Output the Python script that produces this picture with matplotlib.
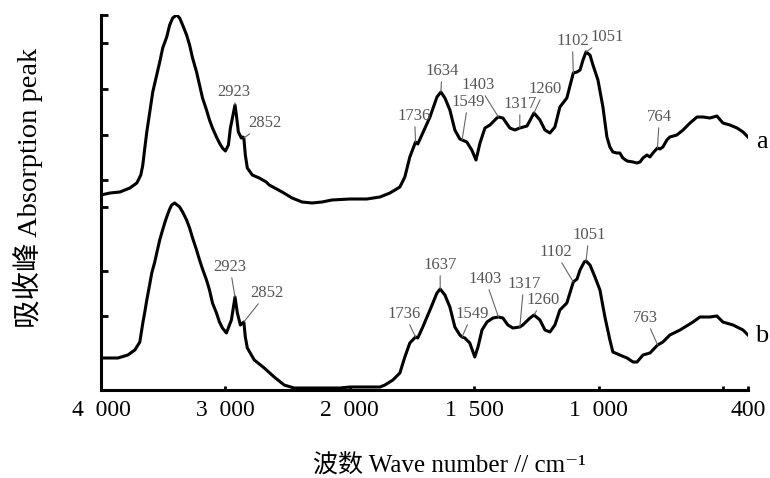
import numpy as np
import matplotlib
matplotlib.use('Agg')
from matplotlib import pyplot as plt
from matplotlib import rc

rc('font', family=['Liberation Serif', 'Noto Sans CJK SC', 'DejaVu Serif'])

# spectrum a (upper)
wn_a = [4000, 3928, 3848, 3768, 3712, 3680, 3664, 3648, 3632, 3608, 3584, 3552, 3528,
        3504, 3472, 3448, 3424, 3392, 3368, 3344, 3312, 3288, 3264, 3232, 3208, 3184,
        3152, 3128, 3104, 3072, 3048, 3024, 3000, 2976, 2960, 2923, 2912, 2896, 2872,
        2860, 2852, 2840, 2824, 2784, 2728, 2672, 2648, 2544, 2464, 2384, 2304, 2224,
        2144, 2000, 1932, 1879, 1839, 1799, 1779, 1759, 1736, 1727, 1707, 1678, 1650,
        1634, 1618, 1598, 1578, 1558, 1549, 1530, 1510, 1493, 1477, 1457, 1437, 1409,
        1403, 1385, 1357, 1337, 1317, 1288, 1264, 1260, 1236, 1216, 1196, 1176, 1156,
        1128, 1102, 1087, 1075, 1063, 1051, 1035, 1023, 1003, 983, 967, 955, 943, 927,
        915, 903, 886, 862, 846, 834, 822, 806, 794, 782, 764, 754, 742, 726, 714, 686,
        661, 633, 605, 581, 553, 525, 501, 473, 444, 420, 400]
abs_a = [195, 197, 198, 202, 207, 215, 225, 242, 258, 278, 298, 315, 328,
         342, 353, 365, 372, 375, 372, 365, 355, 345, 332, 318, 305, 292,
         280, 270, 262, 253, 247, 242, 239, 245, 262, 285, 275, 258, 252,
         253, 252, 235, 222, 215, 212, 208, 205, 198, 192, 188, 187, 188,
         190, 191, 191, 193, 197, 203, 213, 233, 248, 246, 257, 273, 293,
         298, 292, 280, 260, 251, 250, 248, 240, 230, 247, 262, 265, 272,
         273, 272, 262, 260, 262, 264, 275, 277, 270, 260, 257, 263, 283,
         292, 317, 318, 320, 330, 338, 335, 325, 310, 283, 253, 243, 238, 237,
         237, 232, 229, 228, 227, 228, 232, 235, 233, 237, 242, 241, 243, 250, 253, 255,
         260, 267, 273, 273, 272, 274, 267, 265, 262, 258, 253]

# spectrum b (lower)
wn_b = [4000, 3864, 3784, 3728, 3688, 3664, 3648, 3632, 3608, 3592, 3568, 3552, 3528,
        3512, 3488, 3472, 3448, 3432, 3408, 3368, 3344, 3312, 3288, 3264, 3232, 3208,
        3184, 3152, 3128, 3104, 3072, 3048, 3024, 2992, 2952, 2923, 2904, 2880, 2852,
        2840, 2824, 2768, 2688, 2608, 2528, 2448, 2408, 2080, 2000, 1879, 1859, 1827,
        1799, 1779, 1759, 1736, 1727, 1707, 1678, 1650, 1637, 1618, 1598, 1578, 1558,
        1549, 1538, 1518, 1498, 1485, 1469, 1449, 1425, 1403, 1385, 1365, 1345, 1317,
        1305, 1276, 1260, 1236, 1216, 1196, 1176, 1156, 1128, 1102, 1087, 1075, 1058,
        1051, 1035, 1015, 995, 975, 955, 943, 915, 886, 862, 846, 822, 794, 763, 742,
        714, 673, 621, 593, 553, 525, 501, 460, 420, 400]
abs_b = [32, 32, 35, 40, 48, 67, 78, 90, 106, 117, 128, 137, 150,
         157, 167, 173, 181, 185, 187, 183, 178, 170, 162, 152, 140, 130,
         121, 110, 100, 87, 77, 68, 62, 57, 70, 93, 77, 65, 68,
         53, 42, 30, 22, 13, 5, 2, 2, 2, 3, 3, 5, 10,
         17, 33, 47, 53, 52, 63, 80, 97, 101, 95, 83, 63, 55,
         53, 52, 47, 33, 43, 60, 68, 72, 73, 72, 65, 62, 63,
         65, 72, 75, 70, 60, 58, 65, 80, 87, 108, 111, 120, 128,
         129, 125, 113, 100, 73, 50, 38, 35, 32, 28, 28, 35, 37, 45, 48,
         55, 60, 68, 73, 73, 74, 68, 65, 60, 55]

peaks_a = [2923, 2852, 1736, 1634, 1549, 1403, 1317, 1260, 1102, 1051, 764]
peaks_b = [2923, 2852, 1736, 1637, 1549, 1403, 1317, 1260, 1102, 1051, 763]

# label offsets (pixels) from the marked point
off_a = [(-1, 13), (21, 15), (-1, 26), (1, 21), (6, 38), (-20, 32), (0, 24),
         (11, 24), (-1, 32), (21, 15), (2, 31)]
off_b = [(-5, 30), (23, 29), (-11, 23), (0, 24), (10, 23), (-13, 38), (4, 43),
         (9, 15), (-18, 30), (3, 26), (-12, 27)]

xticks = [4000, 3000, 2000, 1500, 1000, 500, 400]
xticklabels = ['4  000', '3  000', '2  000', '1  500', '1  000', '', '400']
yticks = [375, 347, 301, 255, 210, 183, 119, 74]

# axis is compressed above 2000 cm-1
R = 0.5
def fwd(x):
    x = np.asarray(x, dtype=float)
    return np.where(x > 2000, 2000 + (x - 2000) * R, x)

def inv(x):
    x = np.asarray(x, dtype=float)
    return np.where(x > 2000, 2000 + (x - 2000) / R, x)

fig = plt.figure(figsize=(7.7, 4.78), dpi=100)
ax = fig.add_axes([101/770., 88/478., 647/770., 375/478.])
ax.set_xscale('function', functions=(fwd, inv))

ax.plot(wn_a, abs_a, c='k', lw=2.2, solid_joinstyle='round')
ax.plot(wn_b, abs_b, c='k', lw=2.2, solid_joinstyle='round')

def label_peaks(wn, ab, peaks, offs):
    xs = np.array(wn)[::-1]
    ys = np.array(ab)[::-1]
    for p, o in zip(peaks, offs):
        y = np.interp(p, xs, ys)
        ax.annotate(str(p), xy=(p, y), xytext=o, textcoords='offset pixels',
                    ha='center', va='center', fontsize=12, color='#555555',
                    arrowprops=dict(arrowstyle='-', color='#666666', lw=0.8,
                                    shrinkA=0, shrinkB=0))

label_peaks(wn_a, abs_a, peaks_a, off_a)
label_peaks(wn_b, abs_b, peaks_b, off_b)

ax.text(344, 248, 'a', fontsize=19, ha='center', va='center', clip_on=False)
ax.text(344, 54, 'b', fontsize=19, ha='center', va='center', clip_on=False)

ax.set_xlim(4000, 400)
ax.set_ylim(0, 375)
ax.set_xticks(xticks)
ax.set_xticklabels(xticklabels)
ax.set_yticks(yticks)
ax.set_yticklabels([])
ax.tick_params(axis='x', direction='in', length=3, width=2, labelsize=17, pad=7)
ax.tick_params(axis='y', direction='in', length=5, width=2)

for s in ['top', 'right']:
    ax.spines[s].set_visible(False)
for s in ['left', 'bottom']:
    ax.spines[s].set_linewidth(2.2)

ax.set_xlabel('波数 Wave number // cm⁻¹', fontsize=18, va='center')
ax.xaxis.set_label_coords(0.539, -0.2)
ax.set_ylabel('吸收峰 Absorption peak', fontsize=20.5, va='center')
ax.yaxis.set_label_coords(-0.113, 0.539)

fig.savefig('out.png', dpi=100)
